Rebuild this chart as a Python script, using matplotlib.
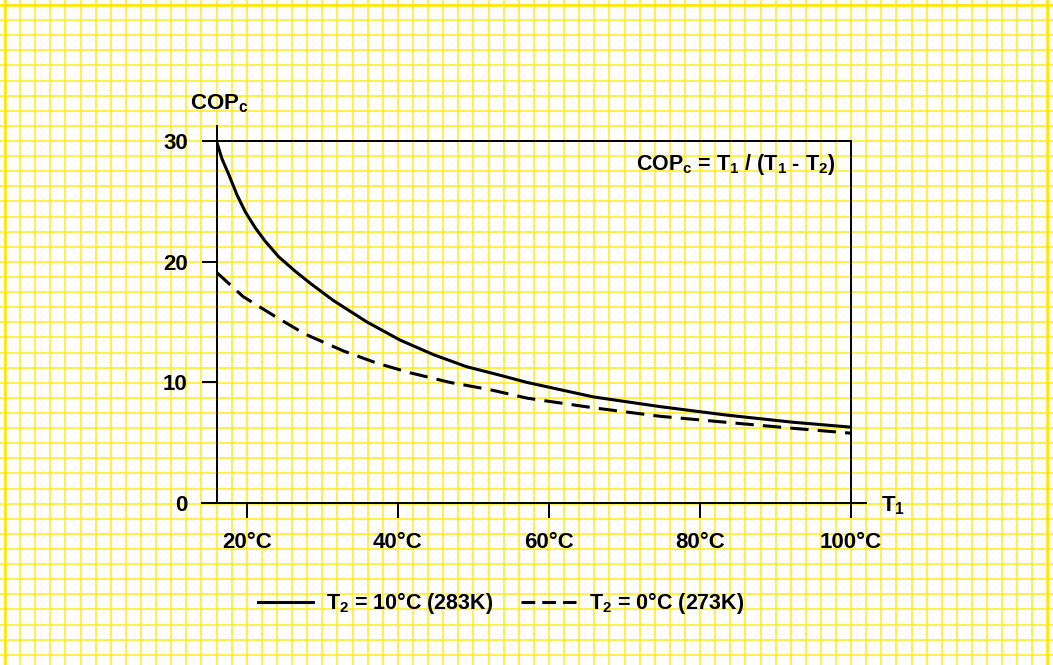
import numpy as np
import matplotlib
matplotlib.use('Agg')
import matplotlib.pyplot as plt
from matplotlib.lines import Line2D

plt.rcParams['font.family'] = ['Liberation Sans', 'DejaVu Sans']
plt.rcParams['font.weight'] = 'bold'
plt.rcParams['mathtext.fontset'] = 'custom'
plt.rcParams['mathtext.rm'] = 'Liberation Sans:bold'
plt.rcParams['mathtext.bf'] = 'Liberation Sans:bold'
plt.rcParams['mathtext.it'] = 'Liberation Sans:bold'

# T1 in degC
t1_solid = [16, 16.7, 17.6, 18.7, 19.8, 21.1, 22.4, 24.2, 26.4, 28.4, 31.4,
            35.9, 40.3, 44.7, 49.1, 53.5, 57.1, 65.9, 74.7, 83.5, 92.4, 100]
cop_solid = [29.9, 28.5, 27.2, 25.5, 24.1, 22.8, 21.7, 20.4, 19.2, 18.2, 16.8,
             15.0, 13.5, 12.3, 11.3, 10.6, 10.0, 8.8, 8.0, 7.3, 6.7, 6.3]
t1_dashed = [16, 19.5, 23.9, 27.7, 32.8, 37.2, 41.6, 46.9, 52.2, 57.1, 65.9,
             74.7, 83.5, 92.4, 100]
cop_dashed = [19.1, 17.1, 15.4, 14.0, 12.6, 11.6, 10.8, 10.0, 9.4, 8.7, 7.9,
              7.2, 6.7, 6.2, 5.8]

x_ticks = [20, 40, 60, 80, 100]
x_labels = ['20°C', '40°C', '60°C', '80°C', '100°C']
y_ticks = [0, 10, 20, 30]
labels = [r'$\mathbf{T_2}$ = 10°C (283K)', r'$\mathbf{T_2}$ = 0°C (273K)']

W, H = 1053, 665
fig = plt.figure(figsize=(W / 100, H / 100), dpi=100)
fig.patch.set_facecolor('white')

# graph paper background
bg = fig.add_axes([0, 0, 1, 1])
bg.set_xlim(0, W)
bg.set_ylim(H, 0)
bg.axis('off')
step = 15.11
for k in range(70):
    bg.axvline(5 + k * step, color='#FFEC1A', lw=1.1, zorder=0)
for k in range(44):
    bg.axhline(5 + k * step, color='#FFEC1A', lw=1.1, zorder=0)
bg.axvline(5, color='#FFE800', lw=1.8)
bg.axvline(1047.3, color='#FFE800', lw=1.8)
bg.axhline(5, color='#FFE800', lw=1.8)

# main plot
L, R, B, T = 216.7, 851, 503.3, 140.7
ax = fig.add_axes([L / W, (H - B) / H, (R - L) / W, (B - T) / H])
ax.set_facecolor('none')
ax.plot(t1_solid, cop_solid, color='black', lw=2.2, solid_capstyle='butt',
        solid_joinstyle='round')
ax.plot(t1_dashed, cop_dashed, color='black', lw=2.2, linestyle=(0, (6, 3)))
ax.set_xlim(16, 100)
ax.set_ylim(0, 30)

for s in ax.spines.values():
    s.set_linewidth(1.4)
    s.set_color('black')

ex = 15 / (R - L)
ey = 15 / (B - T)
ax.add_line(Line2D([0, 0], [1, 1 + ey], transform=ax.transAxes, color='black', lw=1.4, clip_on=False))
ax.add_line(Line2D([-ex, 0], [0, 0], transform=ax.transAxes, color='black', lw=1.4, clip_on=False))
ax.add_line(Line2D([1, 1 + ex], [0, 0], transform=ax.transAxes, color='black', lw=1.4, clip_on=False))

ax.set_xticks(x_ticks)
ax.set_xticklabels(x_labels)
ax.set_yticks(y_ticks)
ax.tick_params(direction='out', length=10.8, width=1.4, pad=10, labelsize=16)
for lab in ax.get_xticklabels() + ax.get_yticklabels():
    lab.set_fontweight('bold')

ax.text(-0.042, 1.085, r'$\mathbf{COP_c}$', transform=ax.transAxes, fontsize=16,
        ha='left', va='baseline')
ax.text(1.048, -0.021, r'$\mathbf{T_1}$', transform=ax.transAxes, fontsize=16,
        ha='left', va='baseline')
ax.text(0.976, 0.919, r'$\mathbf{COP_c}$ = $\mathbf{T_1}$ / ($\mathbf{T_1}$ - $\mathbf{T_2}$)',
        transform=ax.transAxes, fontsize=15.5, ha='right', va='baseline')

handles = [Line2D([], [], color='black', lw=2.2),
           Line2D([], [], color='black', lw=2.2, linestyle=(0, (4.5, 2.3)))]
leg = fig.legend(handles, labels, loc='center', bbox_to_anchor=(0.476, 0.093), ncol=2,
                 frameon=False, fontsize=15.5, handlelength=2.56, handletextpad=0.6,
                 columnspacing=1.3)
for t in leg.get_texts():
    t.set_fontweight('bold')

fig.savefig('out.png', dpi=100, facecolor='white')
